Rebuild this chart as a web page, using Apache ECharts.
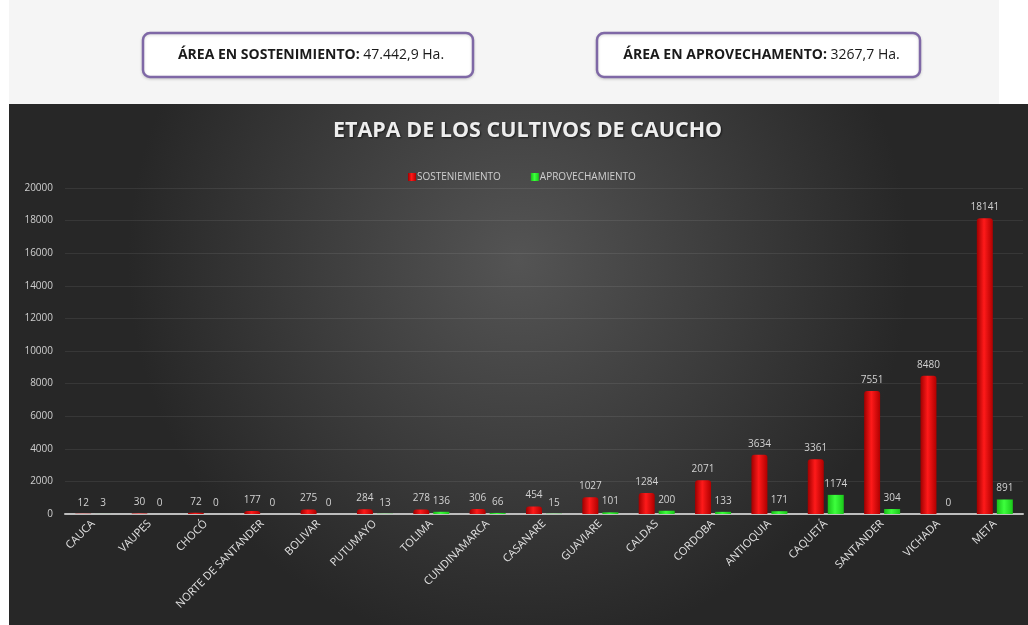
<!DOCTYPE html>
<html>
<head>
<meta charset="utf-8">
<script src="https://cdn.jsdelivr.net/npm/echarts@6/dist/echarts.min.js"></script>
<style>
  html, body { margin: 0; padding: 0; background: #ffffff; }
  #chart { width: 1028px; height: 625px; }
</style>
</head>
<body>
<div id="chart"></div>
<script>
// datos
var departamentos = ['CAUCA', 'VAUPES', 'CHOCÓ', 'NORTE DE SANTANDER', 'BOLIVAR', 'PUTUMAYO',
  'TOLIMA', 'CUNDINAMARCA', 'CASANARE', 'GUAVIARE', 'CALDAS', 'CORDOBA', 'ANTIOQUIA',
  'CAQUETÁ', 'SANTANDER', 'VICHADA', 'META'];
var sostenimiento = [12, 30, 72, 177, 275, 284, 278, 306, 454, 1027, 1284, 2071, 3634, 3361, 7551, 8480, 18141];
var aprovechamiento = [3, 0, 0, 0, 0, 13, 136, 66, 15, 101, 200, 133, 171, 1174, 304, 0, 891];
var yTicks = [0, 2000, 4000, 6000, 8000, 10000, 12000, 14000, 16000, 18000, 20000];

var chart = echarts.init(document.getElementById('chart'));

// cuadro de texto con borde morado
function caja(x, w, bold, normal) {
    return [
        {
            type: 'rect', z: 5,
            shape: { x: x, y: 33, width: w, height: 44, r: 7 },
            style: { fill: '#ffffff', stroke: '#7f68a6', lineWidth: 2.5,
                shadowColor: 'rgba(0,0,0,0.15)', shadowBlur: 3, shadowOffsetY: 1 }
        },
        {
            type: 'text', z: 6,
            x: x + w / 2 + 3, y: 55,
            style: {
                text: '{b|' + bold + '}{n|' + normal + '}',
                align: 'center', verticalAlign: 'middle',
                rich: {
                    b: { fontFamily: 'Open Sans', fontWeight: 'bold', fontSize: 14, fill: '#1a1a1a' },
                    n: { fontFamily: 'Open Sans', fontSize: 14, fill: '#1a1a1a' }
                }
            }
        }
    ];
}

var cilindroRojo = new echarts.graphic.LinearGradient(0, 0, 1, 0, [
    { offset: 0, color: '#a00000' },
    { offset: 0.45, color: '#ff1a1a' },
    { offset: 1, color: '#b00000' }
]);
var cilindroVerde = new echarts.graphic.LinearGradient(0, 0, 1, 0, [
    { offset: 0, color: '#18c018' },
    { offset: 0.45, color: '#3dff3d' },
    { offset: 1, color: '#1ac81a' }
]);

var etiqueta = {
    show: true,
    position: 'top',
    distance: 6,
    color: '#d2d2d2',
    fontFamily: 'Open Sans',
    fontSize: 10
};

var option = {
    backgroundColor: '#ffffff',
    animation: false,
    graphic: [
        {
            type: 'rect', z: -10, silent: true,
            shape: { x: 9, y: 0, width: 990, height: 104 },
            style: { fill: '#f5f5f5' }
        },
        {
            type: 'rect', z: -10, silent: true,
            shape: { x: 9, y: 104, width: 1019, height: 521 },
            style: {
                fill: new echarts.graphic.RadialGradient(0.5, 0.3, 0.75, [
                    { offset: 0, color: '#545454' },
                    { offset: 1, color: '#272727' }
                ])
            }
        }
    ].concat(caja(143, 330, 'ÁREA EN SOSTENIMIENTO:', ' 47.442,9 Ha.'))
     .concat(caja(597, 323, 'ÁREA EN APROVECHAMENTO:', ' 3267,7 Ha.')),
    title: {
        text: 'ETAPA DE LOS CULTIVOS DE CAUCHO',
        left: 328,
        top: 115,
        textStyle: {
            color: '#eeeeee',
            fontFamily: 'Open Sans',
            fontWeight: 'bold',
            fontSize: 21.5,
            textShadowColor: 'rgba(0,0,0,0.6)',
            textShadowBlur: 2,
            textShadowOffsetX: 1,
            textShadowOffsetY: 1
        }
    },
    legend: {
        top: 167,
        left: 403,
        itemWidth: 8,
        itemHeight: 8,
        itemGap: 30,
        icon: 'rect',
        textStyle: { color: '#cfcfcf', fontFamily: 'Open Sans', fontSize: 10, padding: [0, 0, 0, -4] },
        data: ['SOSTENIEMIENTO', 'APROVECHAMIENTO']
    },
    grid: {
        left: 65,
        right: 5,
        top: 188,
        bottom: 111
    },
    xAxis: {
        type: 'category',
        data: departamentos,
        axisLine: { lineStyle: { color: '#bdbdbd', width: 2 } },
        axisTick: { show: false },
        axisLabel: {
            interval: 0,
            rotate: 45,
            color: '#e0e0e0',
            fontFamily: 'Open Sans',
            fontSize: 11,
            margin: 8
        }
    },
    yAxis: {
        type: 'value',
        min: yTicks[0],
        max: yTicks[yTicks.length - 1],
        interval: 2000,
        axisLine: { show: false },
        axisTick: { show: false },
        axisLabel: {
            color: '#cfcfcf',
            fontFamily: 'Open Sans',
            fontSize: 10,
            margin: 12,
            formatter: function (v) { return String(v); }
        },
        splitLine: { lineStyle: { color: 'rgba(255,255,255,0.08)', width: 1 } }
    },
    series: [
        {
            name: 'SOSTENIEMIENTO',
            type: 'bar',
            data: sostenimiento,
            barWidth: 16,
            barGap: '25%',
            itemStyle: { color: cilindroRojo, borderRadius: [3, 3, 0, 0] },
            label: etiqueta
        },
        {
            name: 'APROVECHAMIENTO',
            type: 'bar',
            data: aprovechamiento,
            barWidth: 16,
            itemStyle: { color: cilindroVerde },
            label: etiqueta
        }
    ]
};

// colores de la leyenda (el gradiente no se ve bien en el cuadrito)
option.series[0].color = '#e00000';
option.series[1].color = '#22ee22';

chart.setOption(option);
</script>
</body>
</html>
